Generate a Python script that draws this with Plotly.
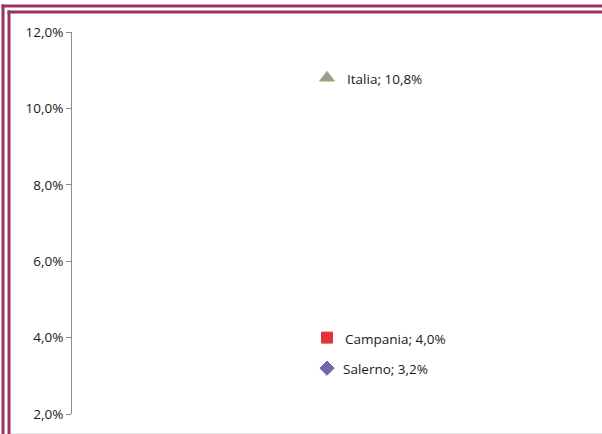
import plotly.graph_objects as go

W, H = 602, 434

# Data
areas = ["Salerno", "Campania", "Italia"]
values = [0.032, 0.040, 0.108]
symbols = ["diamond", "square", "triangle-up"]
fills = ["#6A6AAA", "#E0333A", "#9A9A9A"]
outlines = ["#6A6AAA", "#E0333A", "#9BBB59"]
sizes = [11, 11, 13]
label_shift = [14, 16, 18]
y_ticks = [0.02, 0.04, 0.06, 0.08, 0.10, 0.12]

FONT = "Open Sans, Noto Sans, sans-serif"

fig = go.Figure()
for name, v, sym, fc, lc, sz, dx in zip(areas, values, symbols, fills, outlines, sizes, label_shift):
    fig.add_trace(go.Scatter(
        x=[1], y=[v], mode="markers", name=name,
        marker=dict(symbol=sym, size=sz, color=fc, line=dict(color=lc, width=1)),
        showlegend=False, hoverinfo="skip",
    ))
    label = f"{name}; {v * 100:.1f}%".replace(".", ",")
    fig.add_annotation(x=1, y=v, xref="x", yref="y", text=label, showarrow=False,
                       xanchor="left", yanchor="middle", xshift=dx, yshift=-1,
                       font=dict(family=FONT, size=13.5, color="#1a1a1a"))

# Double plum frame on the top and left edges
frame = "#993366"
def px_x(x):
    return x / W
def px_y(y):
    return 1 - y / H

shapes = [
    dict(type="line", xref="paper", yref="paper", x0=px_x(1.5), x1=1, y0=px_y(6), y1=px_y(6),
         line=dict(color=frame, width=3)),
    dict(type="line", xref="paper", yref="paper", x0=px_x(3), x1=px_x(3), y0=px_y(4.5), y1=0,
         line=dict(color=frame, width=3)),
    dict(type="line", xref="paper", yref="paper", x0=px_x(7.5), x1=1, y0=px_y(12), y1=px_y(12),
         line=dict(color=frame, width=3)),
    dict(type="line", xref="paper", yref="paper", x0=px_x(9), x1=px_x(9), y0=px_y(10.5), y1=0,
         line=dict(color=frame, width=3)),
    dict(type="line", xref="paper", yref="paper", x0=px_x(11), x1=1, y0=px_y(433.5), y1=px_y(433.5),
         line=dict(color="#e6e6e6", width=1)),
]

fig.update_layout(
    width=W, height=H,
    margin=dict(l=0, r=0, t=0, b=0, pad=0, autoexpand=False),
    paper_bgcolor="white", plot_bgcolor="white",
    separators=",.",
    shapes=shapes,
    xaxis=dict(domain=[72 / W, 582 / W], range=[0, 2], visible=False, fixedrange=True,
               automargin=False),
    yaxis=dict(
        domain=[(H - 414) / H, (H - 32) / H], range=[0.02, 0.12],
        tickvals=y_ticks, tickformat=".1%", automargin=False,
        showline=True, linecolor="#8c8c8c", linewidth=1,
        ticks="outside", ticklen=5, tickcolor="#8c8c8c",
        showgrid=False, zeroline=False,
        tickfont=dict(family=FONT, size=13.5, color="#1a1a1a"),
    ),
)

fig.write_html("out.html")
